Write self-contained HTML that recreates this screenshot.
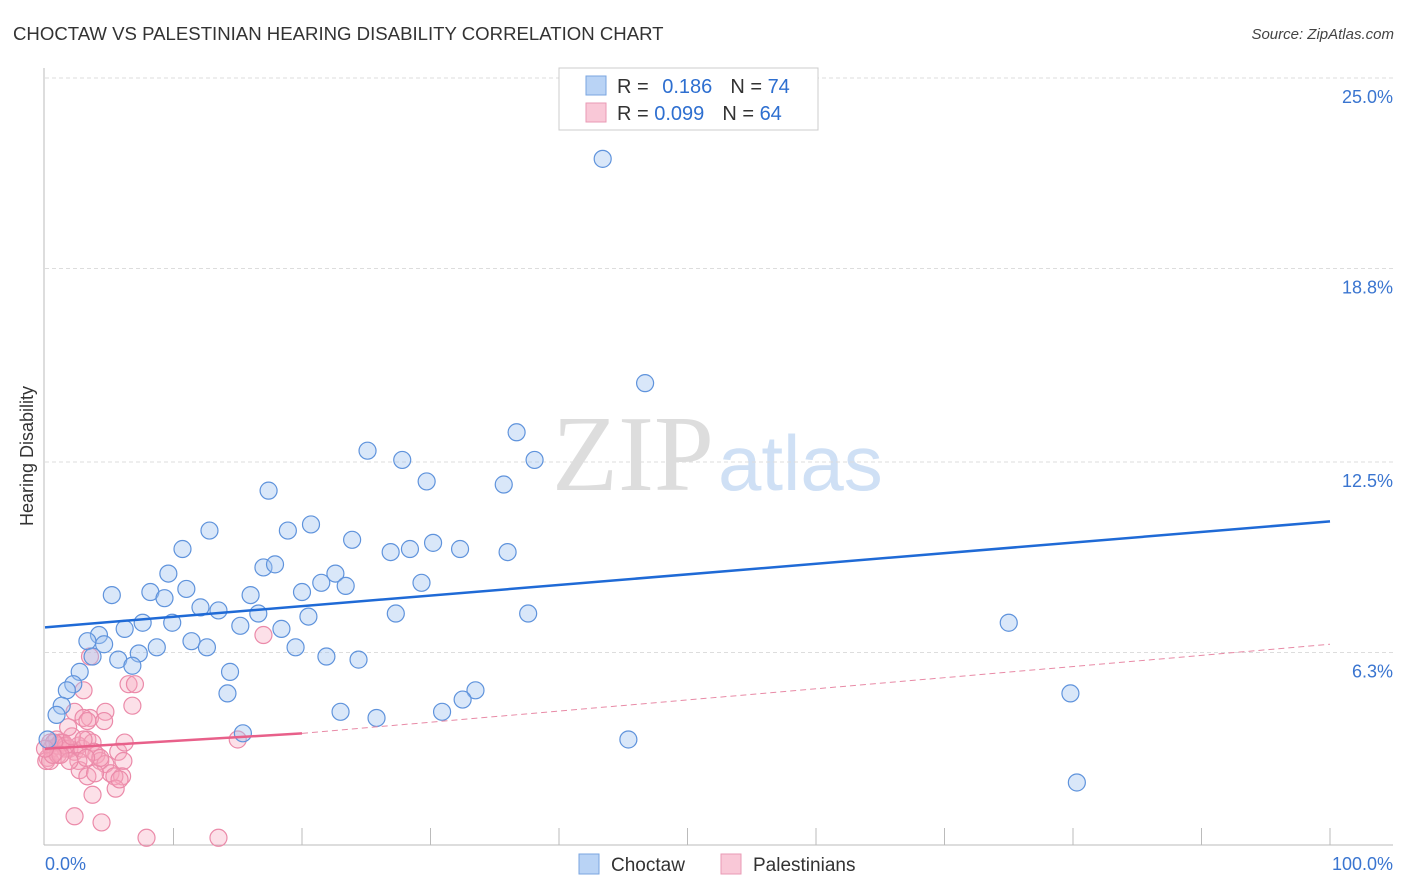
<!DOCTYPE html>
<html><head><meta charset="utf-8"><style>
body{margin:0;background:#fff;font-family:"Liberation Sans",sans-serif;}
#c{position:relative;width:1406px;height:892px;overflow:hidden}
</style></head><body>
<div id="c">
<svg id="s" width="1406" height="892" xmlns="http://www.w3.org/2000/svg">
<text x="13" y="40" font-size="18.6" fill="#333">CHOCTAW VS PALESTINIAN HEARING DISABILITY CORRELATION CHART</text>
<text x="1394" y="39" font-size="15" fill="#444" font-style="italic" text-anchor="end">Source: ZipAtlas.com</text>
<text x="33" y="456" font-size="18" fill="#333" transform="rotate(-90 33 456)" text-anchor="middle">Hearing Disability</text>
<text x="714" y="490" font-size="108" fill="#ddd" font-family="Liberation Serif,serif" text-anchor="end">ZIP</text>
<text x="718" y="490" font-size="78" fill="#cfe0f5">atlas</text>
<g id="grid"></g><g id="pts"></g><g id="lines"></g>
<g>
<rect x="559" y="68" width="259" height="62" fill="#fff" stroke="#ccc"/>
<rect x="586" y="76" width="20" height="19" fill="#b9d3f5" stroke="#7aa6e0"/>
<rect x="586" y="103" width="20" height="19" fill="#f9c8d7" stroke="#e99ab4"/>
<text x="617" y="93" font-size="20" fill="#333">R = <tspan fill="#2e6fd0" dx="8">0.186</tspan><tspan dx="18" fill="#333">N = </tspan><tspan fill="#2e6fd0">74</tspan></text>
<text x="617" y="120" font-size="20" fill="#333">R = <tspan fill="#2e6fd0">0.099</tspan><tspan dx="18" fill="#333">N = </tspan><tspan fill="#2e6fd0">64</tspan></text>
</g>
<g>
<rect x="579" y="854" width="20" height="20" fill="#b9d3f5" stroke="#7aa6e0"/>
<text x="611" y="871" font-size="19" fill="#333">Choctaw</text>
<rect x="721" y="854" width="20" height="20" fill="#f9c8d7" stroke="#e99ab4"/>
<text x="753" y="871" font-size="19" fill="#333">Palestinians</text>
</g>
</svg></div>
<script>
const yTicks=[25.0,18.8,12.5,6.3];
const yTickLabels=["25.0%","18.8%","12.5%","6.3%"];
const xTickCount=10;
const blueX=[43.4,46.7,36.7,25.1,27.8,38.1,29.7,35.7,17.4,12.8,20.7,18.9,10.7,23.9,30.2,28.4,32.3,26.9,36.0,17.0,17.9,9.6,22.6,21.5,23.4,29.3,8.2,11.0,5.2,9.3,16.0,20.0,12.1,13.5,16.6,20.5,27.3,37.6,7.6,9.9,6.2,15.2,18.4,4.2,3.3,4.6,11.4,12.6,8.7,19.5,7.3,3.7,5.7,6.8,21.9,24.4,75.0,14.4,2.7,2.2,1.7,14.2,79.8,33.5,32.5,1.3,0.9,23.0,25.8,30.9,15.4,45.4,80.3,0.2];
const blueY=[22.4,15.1,13.5,12.9,12.6,12.6,11.9,11.8,11.6,10.3,10.5,10.3,9.7,10.0,9.9,9.7,9.7,9.6,9.6,9.1,9.2,8.9,8.9,8.6,8.5,8.6,8.3,8.4,8.2,8.1,8.2,8.3,7.8,7.7,7.6,7.5,7.6,7.6,7.3,7.3,7.1,7.2,7.1,6.9,6.7,6.6,6.7,6.5,6.5,6.5,6.3,6.2,6.1,5.9,6.2,6.1,7.3,5.7,5.7,5.3,5.1,5.0,5.0,5.1,4.8,4.6,4.3,4.4,4.2,4.4,3.7,3.5,2.1,3.5];
const pinkX=[17.0,3.5,6.5,7.0,3.0,6.8,2.3,3.5,3.0,4.7,4.6,3.3,0.9,1.3,0.2,0.4,0.5,0.8,1.0,1.2,1.4,1.6,1.9,2.3,2.6,2.9,3.3,3.7,4.0,4.3,4.7,5.1,5.7,6.1,6.0,6.2,2.6,2.7,3.3,3.9,15.0,1.6,2.1,0.1,0.4,0.7,1.0,1.8,3.0,3.8,4.3,5.4,5.5,3.7,2.3,4.4,7.9,13.5,3.2,1.9,1.2,0.6,0.0,5.8];
const pinkY=[6.9,6.2,5.3,5.3,5.1,4.6,4.4,4.2,4.2,4.4,4.1,4.1,3.5,3.4,2.9,3.4,3.2,3.1,3.3,3.4,3.4,3.2,3.2,3.1,3.3,3.2,3.5,3.4,3.0,2.8,2.7,2.4,3.1,2.8,2.3,3.4,2.8,2.5,2.3,2.4,3.5,3.3,3.6,2.8,2.8,3.4,3.0,3.9,3.5,3.1,2.9,2.3,1.9,1.7,1.0,0.8,0.3,0.3,2.9,2.8,3.0,3.0,3.2,2.2];
const blueTrend=[7.15,10.6];
const pinkTrendSolid=[3.2,3.7];
const pinkTrendDash=[3.7,6.6];
const pinkSolidEnd=20;
const X0=45,X1=1330,Y0=847,PPU=30.72;
const sx=v=>X0+(X1-X0)*v/100, sy=v=>Y0-v*PPU;
const NS="http://www.w3.org/2000/svg";
function mk(t,a,p){const e=document.createElementNS(NS,t);for(const k in a)e.setAttribute(k,a[k]);p.appendChild(e);return e;}
const g=document.getElementById('grid');
yTicks.forEach((t,i)=>{
 const l=mk('line',{x1:45,x2:1393,y1:sy(t)-1,y2:sy(t)-1,stroke:'#ddd','stroke-dasharray':'4,3'},g);
 
 
 const tx=mk('text',{x:1393,y:sy(t)+24,'font-size':18,fill:'#3a75d0','text-anchor':'end'},g);
 tx.textContent=yTickLabels[i];
 
 
});
const ax=mk('line',{x1:44,x2:44,y1:68,y2:845,stroke:'#bbb'},g);


const bx=mk('line',{x1:44,x2:1393,y1:845,y2:845,stroke:'#bbb'},g);


for(let i=1;i<=xTickCount;i++){
 const l=mk('line',{x1:sx(i*10),x2:sx(i*10),y1:828,y2:845,stroke:'#bbb'},g);
 
 
}
const xl=mk('text',{x:45,y:870,'font-size':18,fill:'#3a75d0'},g);xl.textContent='0.0%';


const xr=mk('text',{x:1393,y:870,'font-size':18,fill:'#3a75d0','text-anchor':'end'},g);xr.textContent='100.0%';


const P=document.getElementById('pts');
pinkX.forEach((x,i)=>{
 const c=mk('circle',{cx:sx(x),cy:sy(pinkY[i]),r:8.5,fill:'rgba(245,165,190,0.35)',stroke:'#eb8aa9','stroke-width':1.2},P);
 
 
});
blueX.forEach((x,i)=>{
 const c=mk('circle',{cx:sx(x),cy:sy(blueY[i]),r:8.5,fill:'rgba(160,195,240,0.4)',stroke:'#5f93dc','stroke-width':1.2},P);
 
 
});
const L=document.getElementById('lines');
const b=mk('line',{x1:sx(0),y1:sy(blueTrend[0]),x2:sx(100),y2:sy(blueTrend[1]),stroke:'#1f6ad6','stroke-width':2.5},L);


const p1=mk('line',{x1:sx(0),y1:sy(pinkTrendSolid[0]),x2:sx(pinkSolidEnd),y2:sy(pinkTrendSolid[1]),stroke:'#e8608a','stroke-width':2.5},L);


const p2=mk('line',{x1:sx(pinkSolidEnd),y1:sy(pinkTrendDash[0]),x2:sx(100),y2:sy(pinkTrendDash[1]),stroke:'#e88aa6','stroke-width':1,'stroke-dasharray':'6,4'},L);


</script>
</body></html>
